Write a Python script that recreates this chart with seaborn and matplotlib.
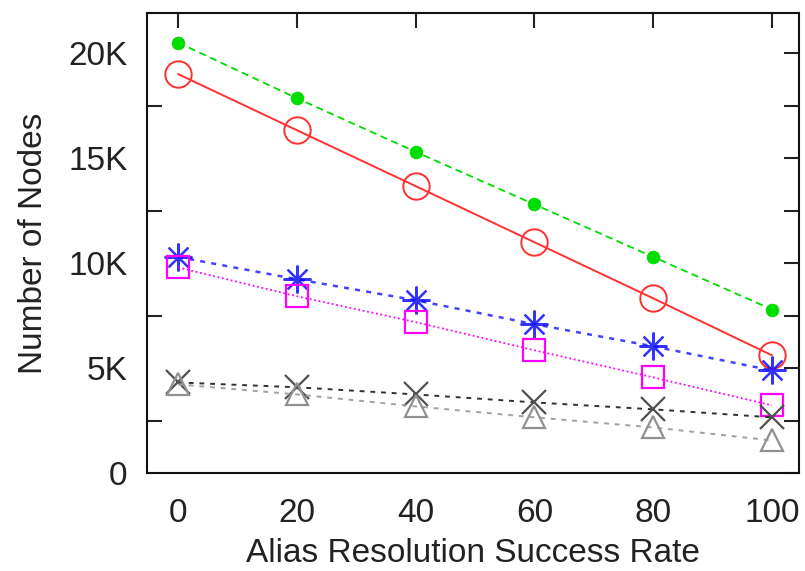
import matplotlib
matplotlib.use("Agg")
import matplotlib.pyplot as plt
import seaborn as sns
import pandas as pd
from matplotlib.ticker import MultipleLocator, FuncFormatter

rates = [0, 20, 40, 60, 80, 100]
green_dots = [20500, 17850, 15300, 12800, 10300, 7800]
red_circles = [19000, 16330, 13670, 11000, 8330, 5620]
blue_stars = [10300, 9240, 8240, 7100, 6050, 4900]
magenta_squares = [9800, 8430, 7200, 5860, 4570, 3240]
black_x = [4330, 4100, 3760, 3380, 3050, 2670]
gray_triangles = [4240, 3760, 3190, 2670, 2190, 1570]

sns.set_theme(style="white")
plt.rcParams['font.family'] = ['Liberation Sans', 'DejaVu Sans']

fig = plt.figure(figsize=(8.05, 5.71), dpi=100)
ax = fig.add_axes([0.1826, 0.1708, 0.810, 0.807])

series = [
    (green_dots, dict(color="#00dd00", linestyle=(0, (4, 2.5)), marker="o", markersize=9,
                      markerfacecolor="#00dd00", markeredgecolor="#00dd00", linewidth=1.3)),
    (red_circles, dict(color="#ff3030", linestyle="-", marker="o", markersize=19,
                       markerfacecolor="none", markeredgecolor="#ff3030", markeredgewidth=1.4, linewidth=1.4)),
    (blue_stars, dict(color="#2020ff", linestyle=(0, (2, 2.5)), marker=(8, 2, 0), markersize=20,
                      markeredgecolor="#1010ff", markeredgewidth=1.6, linewidth=1.8, alpha=0.85)),
    (magenta_squares, dict(color="#ff00ff", linestyle=(0, (1, 1.5)), marker="s", markersize=16,
                           markerfacecolor="none", markeredgecolor="#ff00ff", markeredgewidth=1.6, linewidth=1.3)),
    (black_x, dict(color="#303030", linestyle=(0, (2.5, 3)), marker="x", markersize=17,
                   markeredgecolor="#505050", markeredgewidth=1.6, linewidth=1.4)),
    (gray_triangles, dict(color="#a0a0a0", linestyle=(0, (2.5, 3)), marker="^", markersize=16,
                          markerfacecolor="none", markeredgecolor="#909090", markeredgewidth=1.6, linewidth=1.4)),
]

for vals, kw in series:
    df = pd.DataFrame({"rate": rates, "nodes": vals})
    sns.lineplot(data=df, x="rate", y="nodes", ax=ax, legend=False, **kw)

ax.set_xlim(-5.23, 104.55)
ax.set_ylim(0, 21920)
ax.set_xticks(rates)
ax.yaxis.set_major_locator(MultipleLocator(5000))
ax.yaxis.set_minor_locator(MultipleLocator(2500))
ax.yaxis.set_major_formatter(FuncFormatter(lambda v, p: "0" if v == 0 else f"{int(v/1000)}K"))

ax.tick_params(axis="both", which="both", direction="in", top=True, right=True,
               labelsize=24, colors="#222222", width=1.5)
ax.tick_params(axis="x", which="major", length=11, pad=18)
ax.tick_params(axis="y", which="major", length=11, pad=14)
ax.tick_params(axis="y", which="minor", length=11, left=True, right=True)
for s in ax.spines.values():
    s.set_color("#111111")
    s.set_linewidth(1.5)

ax.set_xlabel("Alias Resolution Success Rate", fontsize=24, color="#222222", labelpad=6)
ax.set_ylabel("Number of Nodes", fontsize=24, color="#222222", labelpad=14)

fig.savefig("out.png", dpi=100)
